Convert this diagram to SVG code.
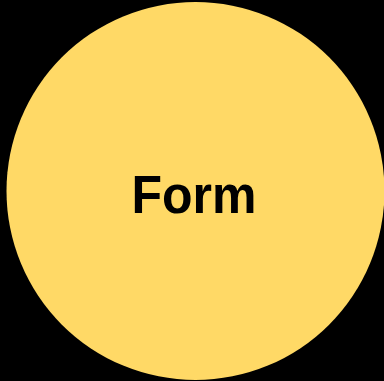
<svg xmlns="http://www.w3.org/2000/svg" width="384" height="381" viewBox="0 0 384 381">
<style>
.node-shape{fill:#FFD966;}
.label{font-family:"Liberation Sans","Open Sans",sans-serif;font-weight:bold;font-size:54px;fill:#000000;}
</style>
<rect x="0" y="0" width="384" height="381" fill="#000000"/>
<g id="form">
<circle class="node-shape" cx="195.5" cy="191" r="189"/>
<text class="label" x="194" y="213" text-anchor="middle" textLength="125" lengthAdjust="spacingAndGlyphs">Form</text>
</g>
<g id="connectors"></g>
</svg>
